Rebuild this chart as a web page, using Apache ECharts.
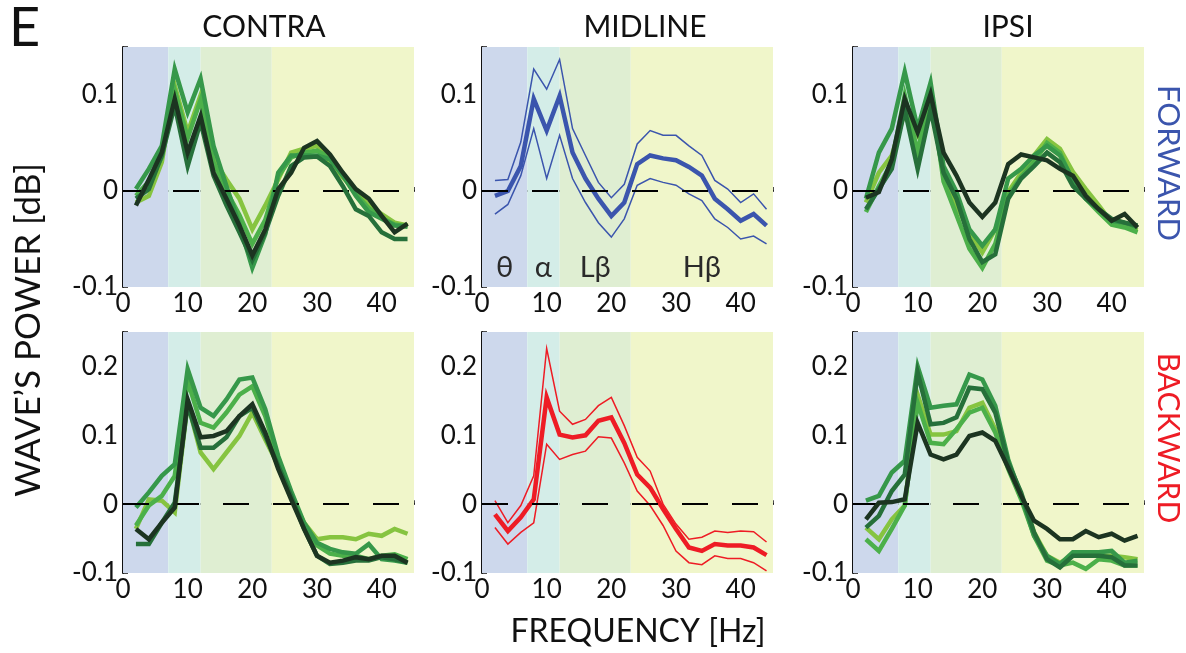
<!DOCTYPE html>
<html>
<head>
<meta charset="utf-8">
<script src="https://cdn.jsdelivr.net/npm/echarts@6/dist/echarts.min.js"></script>
<style>
  html, body { margin: 0; padding: 0; background: #fff; }
  #chart { width: 1186px; height: 653px; }
</style>
</head>
<body>
<div id="chart"></div>
<script>
// Frequency bins (Hz)
const freqs = [2, 4, 6, 8, 10, 12, 14, 16, 18, 20, 22, 24, 26, 28, 30, 32, 34, 36, 38, 40, 42, 44];

// Frequency bands shaded behind every panel
const bandNames = ['θ', 'α', 'Lβ', 'Hβ'];
const bandEdges = [0, 7, 12, 23, 45];

// Column / row labels
const columnTitles = ['CONTRA', 'MIDLINE', 'IPSI'];
const rowTitles = ['FORWARD', 'BACKWARD'];

// Y ranges per row
const fwdRange = [-0.1, 0.15];
const bwdRange = [-0.1, 0.25];

// CONTRA, forward waves (five subjects / conditions, light -> dark)
const contraFwdLight  = [-0.012, -0.005, 0.030, 0.110, 0.061, 0.100, 0.033, 0.012, -0.008, -0.040, -0.015, 0.012, 0.040, 0.044, 0.047, 0.030, 0.014, 0.000, -0.015, -0.024, -0.033, -0.036];
const contraFwdBright = [-0.005, 0.010, 0.035, 0.105, 0.055, 0.095, 0.030, 0.000, -0.025, -0.055, -0.030, 0.015, 0.035, 0.040, 0.042, 0.035, 0.018, -0.003, -0.018, -0.028, -0.035, -0.037];
const contraFwdMid    = [0.002, 0.023, 0.047, 0.127, 0.082, 0.117, 0.047, 0.005, -0.035, -0.080, -0.045, 0.019, 0.037, 0.037, 0.037, 0.033, 0.016, -0.005, -0.022, -0.029, -0.036, -0.037];
const contraFwdDark   = [-0.008, 0.002, 0.037, 0.089, 0.026, 0.072, 0.016, -0.015, -0.043, -0.072, -0.043, -0.005, 0.026, 0.035, 0.036, 0.026, 0.005, -0.019, -0.026, -0.043, -0.050, -0.050];
const contraFwdBlack  = [-0.015, 0.012, 0.040, 0.096, 0.040, 0.078, 0.019, -0.008, -0.036, -0.067, -0.040, 0.002, 0.019, 0.045, 0.052, 0.038, 0.019, 0.002, -0.008, -0.026, -0.043, -0.034];

// MIDLINE, forward: mean with upper / lower bounds
const midFwdMean  = [-0.005, 0.000, 0.026, 0.096, 0.063, 0.099, 0.040, 0.013, -0.008, -0.026, -0.012, 0.028, 0.037, 0.034, 0.032, 0.025, 0.016, -0.008, -0.019, -0.031, -0.024, -0.036];
const midFwdUpper = [0.011, 0.012, 0.051, 0.127, 0.106, 0.137, 0.065, 0.037, 0.009, -0.007, 0.007, 0.049, 0.063, 0.058, 0.058, 0.047, 0.037, 0.011, 0.002, -0.012, -0.003, -0.019];
const midFwdLower = [-0.024, -0.014, 0.016, 0.065, 0.013, 0.058, 0.013, -0.012, -0.033, -0.048, -0.029, 0.006, 0.013, 0.009, 0.006, -0.003, -0.010, -0.029, -0.038, -0.050, -0.047, -0.055];

// IPSI, forward
const ipsiFwdLight  = [-0.012, 0.019, 0.037, 0.082, 0.058, 0.096, 0.016, -0.015, -0.043, -0.064, -0.040, -0.001, 0.019, 0.037, 0.054, 0.044, 0.020, 0.002, -0.015, -0.033, -0.036, -0.041];
const ipsiFwdBright = [-0.022, 0.005, 0.030, 0.100, 0.040, 0.105, 0.010, -0.025, -0.060, -0.080, -0.055, -0.005, 0.015, 0.030, 0.050, 0.040, 0.010, -0.008, -0.022, -0.035, -0.038, -0.043];
const ipsiFwdMid    = [-0.008, 0.040, 0.065, 0.124, 0.065, 0.113, 0.026, -0.001, -0.040, -0.057, -0.040, 0.013, 0.023, 0.037, 0.047, 0.037, 0.012, -0.008, -0.019, -0.031, -0.033, -0.038];
const ipsiFwdDark   = [-0.019, 0.002, 0.023, 0.085, 0.023, 0.085, 0.019, -0.008, -0.050, -0.074, -0.066, -0.008, 0.013, 0.026, 0.040, 0.030, 0.005, -0.008, -0.019, -0.029, -0.033, -0.036];
const ipsiFwdBlack  = [-0.007, -0.001, 0.033, 0.096, 0.061, 0.101, 0.040, 0.016, -0.012, -0.027, -0.012, 0.028, 0.038, 0.035, 0.032, 0.023, 0.016, -0.005, -0.019, -0.031, -0.024, -0.038];

// CONTRA, backward
const contraBwdLight  = [-0.036, 0.007, 0.005, -0.012, 0.147, 0.075, 0.051, 0.075, 0.099, 0.133, 0.094, 0.056, 0.012, -0.027, -0.051, -0.048, -0.048, -0.051, -0.043, -0.046, -0.036, -0.043];
const contraBwdBright = [-0.031, -0.002, 0.012, 0.041, 0.179, 0.118, 0.111, 0.133, 0.159, 0.171, 0.128, 0.063, 0.015, -0.031, -0.060, -0.072, -0.075, -0.075, -0.080, -0.075, -0.073, -0.080];
const contraBwdMid    = [-0.005, 0.017, 0.041, 0.058, 0.196, 0.140, 0.128, 0.152, 0.181, 0.184, 0.138, 0.070, 0.019, -0.027, -0.056, -0.065, -0.070, -0.072, -0.058, -0.080, -0.082, -0.085];
const contraBwdDark   = [-0.058, -0.058, -0.027, 0.002, 0.145, 0.082, 0.082, 0.097, 0.128, 0.140, 0.099, 0.056, 0.012, -0.036, -0.075, -0.087, -0.085, -0.082, -0.082, -0.077, -0.080, -0.085];
const contraBwdBlack  = [-0.036, -0.051, -0.027, -0.005, 0.152, 0.097, 0.099, 0.106, 0.128, 0.145, 0.104, 0.051, 0.007, -0.036, -0.075, -0.085, -0.082, -0.077, -0.080, -0.075, -0.075, -0.085];

// MIDLINE, backward
const midBwdMean  = [-0.015, -0.039, -0.019, 0.007, 0.155, 0.101, 0.097, 0.100, 0.121, 0.126, 0.089, 0.043, 0.024, -0.007, -0.036, -0.063, -0.068, -0.058, -0.060, -0.060, -0.063, -0.074];
const midBwdUpper = [0.005, -0.027, -0.002, 0.041, 0.226, 0.135, 0.116, 0.123, 0.143, 0.155, 0.114, 0.068, 0.048, 0.000, -0.029, -0.051, -0.048, -0.039, -0.041, -0.039, -0.040, -0.055];
const midBwdLower = [-0.034, -0.058, -0.041, -0.027, 0.087, 0.065, 0.072, 0.077, 0.098, 0.096, 0.060, 0.019, -0.002, -0.031, -0.068, -0.085, -0.088, -0.075, -0.079, -0.079, -0.085, -0.097];

// IPSI, backward
const ipsiBwdLight  = [-0.034, -0.051, -0.022, -0.002, 0.159, 0.101, 0.101, 0.106, 0.140, 0.147, 0.109, 0.056, 0.012, -0.041, -0.075, -0.085, -0.075, -0.075, -0.075, -0.075, -0.077, -0.080];
const ipsiBwdBright = [-0.051, -0.068, -0.036, -0.002, 0.147, 0.089, 0.087, 0.109, 0.133, 0.140, 0.104, 0.051, 0.007, -0.046, -0.082, -0.089, -0.085, -0.094, -0.080, -0.082, -0.089, -0.089];
const ipsiBwdMid    = [0.005, 0.012, 0.046, 0.063, 0.200, 0.140, 0.143, 0.145, 0.188, 0.181, 0.143, 0.065, 0.012, -0.046, -0.075, -0.087, -0.070, -0.070, -0.070, -0.068, -0.085, -0.082];
const ipsiBwdDark   = [-0.034, -0.017, 0.019, 0.043, 0.191, 0.116, 0.118, 0.126, 0.169, 0.167, 0.133, 0.060, 0.017, -0.041, -0.080, -0.092, -0.075, -0.075, -0.075, -0.077, -0.089, -0.089];
const ipsiBwdBlack  = [-0.022, 0.002, 0.003, 0.007, 0.118, 0.072, 0.065, 0.072, 0.099, 0.104, 0.092, 0.053, 0.012, -0.024, -0.036, -0.051, -0.051, -0.039, -0.048, -0.043, -0.053, -0.046];

// ---- styling ----
const FONT = 'Lato, "Open Sans", sans-serif';
const greens = ['#86c440', '#4cb04a', '#36984a', '#26703a', '#1c3421'];
const bandColors = ['#cdd8ec', '#d4ede8', '#dfeed2', '#f0f6ca'];
const fwdColor = '#3b55ad';
const bwdColor = '#ee1c25';

const colLeft = [123, 482, 853];
const colWidth = 291;
const rowTop = [47, 332];
const rowHeight = [240, 241];

const panels = [
  { row: 0, col: 0, kind: 'group', lines: [contraFwdLight, contraFwdBright, contraFwdMid, contraFwdDark, contraFwdBlack] },
  { row: 0, col: 1, kind: 'band', lines: [midFwdMean, midFwdUpper, midFwdLower], color: fwdColor, labels: true },
  { row: 0, col: 2, kind: 'group', lines: [ipsiFwdLight, ipsiFwdBright, ipsiFwdMid, ipsiFwdDark, ipsiFwdBlack] },
  { row: 1, col: 0, kind: 'group', lines: [contraBwdLight, contraBwdBright, contraBwdMid, contraBwdDark, contraBwdBlack] },
  { row: 1, col: 1, kind: 'band', lines: [midBwdMean, midBwdUpper, midBwdLower], color: bwdColor },
  { row: 1, col: 2, kind: 'group', lines: [ipsiBwdLight, ipsiBwdBright, ipsiBwdMid, ipsiBwdDark, ipsiBwdBlack] }
];

const pairs = vals => freqs.map((f, i) => [f, vals[i]]);
const fmtY = v => {
  const r = Math.round(v * 100);
  return r % 10 === 0 ? String(r / 100) : '';
};

const grid = [], xAxis = [], yAxis = [], series = [];

panels.forEach((p, idx) => {
  const range = p.row === 0 ? fwdRange : bwdRange;
  grid.push({ left: colLeft[p.col], top: rowTop[p.row], width: colWidth, height: rowHeight[p.row] });
  xAxis.push({
    type: 'value', gridIndex: idx, min: bandEdges[0], max: bandEdges[bandEdges.length - 1], interval: 10,
    axisLine: { lineStyle: { color: '#111', width: 2 } },
    axisTick: { inside: true, length: 4, lineStyle: { color: '#111', width: 1.5 } },
    splitLine: { show: false },
    axisLabel: {
      color: '#111', fontFamily: FONT, fontSize: 26, margin: 4,
      formatter: v => (v % 10 === 0 ? String(v) : '')
    }
  });
  yAxis.push({
    type: 'value', gridIndex: idx, min: range[0], max: range[1], interval: 0.05,
    axisLine: { show: true, lineStyle: { color: '#111', width: 2 } },
    axisTick: { show: true, inside: true, length: 5, lineStyle: { color: '#111', width: 1.5 } },
    splitLine: { show: false },
    axisLabel: { color: '#111', fontFamily: FONT, fontSize: 26, margin: 5, formatter: fmtY }
  });

  // shaded frequency bands
  series.push({
    type: 'line', xAxisIndex: idx, yAxisIndex: idx, data: [], silent: true, z: 0,
    markArea: {
      silent: true,
      data: bandNames.map((name, i) => [
        {
          xAxis: bandEdges[i],
          itemStyle: { color: bandColors[i], opacity: 1 },
          label: {
            show: !!p.labels, formatter: name, position: 'insideBottom', distance: 5,
            fontFamily: FONT, fontSize: 29, color: '#2a2a2a'
          }
        },
        { xAxis: bandEdges[i + 1] }
      ])
    }
  });

  if (p.kind === 'group') {
    p.lines.forEach((vals, i) => {
      series.push({
        type: 'line', xAxisIndex: idx, yAxisIndex: idx, data: pairs(vals),
        symbol: 'none', silent: true, z: 2 + i,
        lineStyle: { color: greens[i], width: 4.5, join: 'miter', cap: 'butt' }
      });
    });
  } else {
    p.lines.forEach((vals, i) => {
      series.push({
        type: 'line', xAxisIndex: idx, yAxisIndex: idx, data: pairs(vals),
        symbol: 'none', silent: true, z: 2,
        lineStyle: { color: p.color, width: i === 0 ? 4.5 : 1.5, join: 'miter' }
      });
    });
  }

  // dashed zero reference
  series.push({
    type: 'line', xAxisIndex: idx, yAxisIndex: idx, data: [], silent: true, z: 10,
    markLine: {
      silent: true, symbol: 'none', label: { show: false },
      lineStyle: { color: '#000', width: 2, type: [26, 24] },
      data: [{ yAxis: 0 }]
    }
  });
});

const colTitleX = [264, 645, 1008];
const graphic = [
  { type: 'text', left: 9, top: 2, style: { text: 'E', font: '54px ' + FONT, fill: '#111' } },
  ...columnTitles.map((t, i) => ({
    type: 'text', x: colTitleX[i], y: 27,
    style: { text: t, font: '30px ' + FONT, fill: '#111', align: 'center', verticalAlign: 'middle' }
  })),
  {
    type: 'text', x: 29, y: 330, rotation: Math.PI / 2,
    style: { text: 'WAVE\u2019S POWER [dB]', font: '35px ' + FONT, fill: '#111', align: 'center', verticalAlign: 'middle' }
  },
  {
    type: 'text', x: 638, y: 632,
    style: { text: 'FREQUENCY [Hz]', font: '32px ' + FONT, fill: '#111', align: 'center', verticalAlign: 'middle' }
  },
  {
    type: 'text', x: 1168, y: 163, rotation: -Math.PI / 2,
    style: { text: rowTitles[0], font: '31px ' + FONT, fill: fwdColor, align: 'center', verticalAlign: 'middle' }
  },
  {
    type: 'text', x: 1168, y: 438, rotation: -Math.PI / 2,
    style: { text: rowTitles[1], font: '30px ' + FONT, fill: bwdColor, align: 'center', verticalAlign: 'middle' }
  }
];

const chart = echarts.init(document.getElementById('chart'), null, { renderer: 'canvas' });
chart.setOption({
  animation: false,
  backgroundColor: '#fff',
  grid, xAxis, yAxis, series, graphic
});
</script>
</body>
</html>
